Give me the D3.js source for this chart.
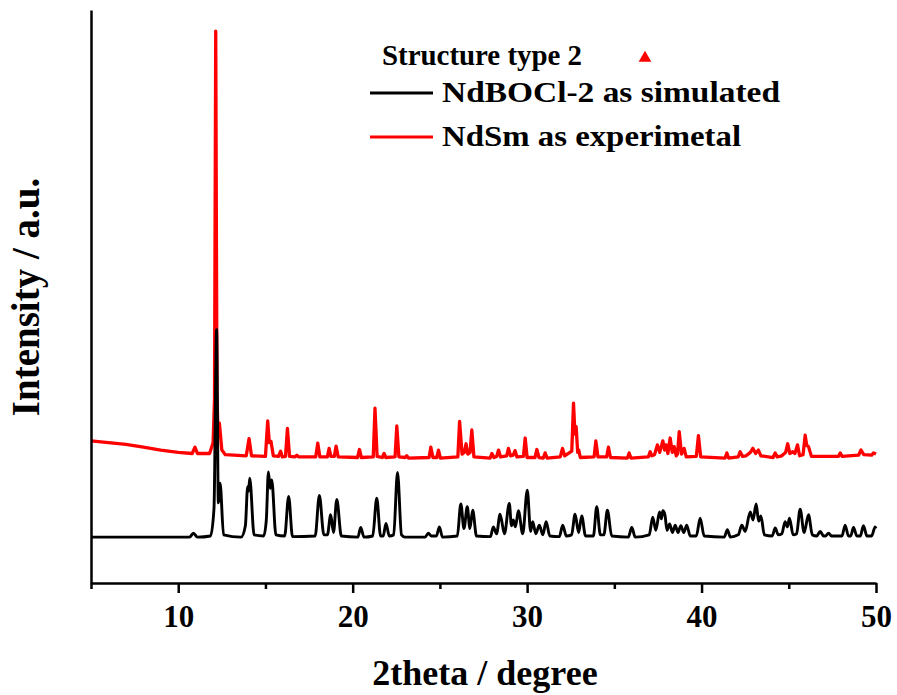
<!DOCTYPE html>
<html>
<head>
<meta charset="utf-8">
<script src="https://cdn.jsdelivr.net/npm/d3@7"></script>
<style>
  html, body { margin: 0; padding: 0; background: #fff; }
  svg text { font-family: "Liberation Serif", "Times New Roman", serif; font-weight: bold; fill: #000; }
</style>
</head>
<body>
<svg id="chart" width="897" height="695"></svg>
<script>
// ---- data (2theta in degrees, intensity in a.u.) ----
const xTickValues = [5, 10, 15, 20, 25, 30, 35, 40, 45, 50];
const xTickLabels = ["", "10", "", "20", "", "30", "", "40", "", "50"];
const seriesNames = ["NdBOCl-2 as simulated", "NdSm as experimetal"];
const legendTitle = "Structure type 2";

const simulated = [
  [5, 80], [10.65, 80], [10.87, 87], [11.1, 80], [11.85, 82], [12.05, 130], [12.2, 442], [12.3, 140], [12.4, 174], [12.6, 84],
  [13.6, 80], [13.85, 100], [13.98, 168], [14.03, 160], [14.1, 183], [14.35, 84], [14.9, 82], [15.05, 110], [15.17, 194],
  [15.27, 165], [15.36, 180], [15.6, 84], [16.1, 82], [16.33, 151], [16.55, 81], [17.85, 82], [18.09, 153], [18.35, 84],
  [18.55, 84], [18.74, 119], [18.9, 88], [19.09, 146], [19.35, 82], [20.3, 80], [20.46, 97], [20.65, 80], [21.15, 82],
  [21.38, 148], [21.6, 82], [21.75, 82], [21.91, 104], [22.1, 82], [22.35, 84], [22.57, 193], [22.8, 84], [23.0, 80],
  [24.15, 80], [24.34, 87], [24.5, 82], [24.8, 82], [24.97, 98], [25.15, 80], [26.0, 82], [26.2, 138], [26.38, 95],
  [26.57, 133], [26.72, 95], [26.88, 127], [27.1, 82], [27.9, 81], [28.06, 98], [28.25, 86], [28.45, 120], [28.7, 86],
  [28.98, 139], [29.1, 100], [29.21, 110], [29.33, 98], [29.5, 126], [29.75, 86], [30.01, 162], [30.2, 90], [30.32, 107],
  [30.5, 86], [30.7, 101], [30.9, 84], [31.09, 107], [31.3, 82], [31.85, 81], [32.04, 101], [32.25, 82], [32.55, 84],
  [32.75, 120], [32.95, 88], [33.13, 117], [33.35, 82], [33.8, 82], [33.99, 133], [34.2, 84], [34.4, 84], [34.6, 127],
  [34.85, 82], [35.8, 80], [36.0, 97], [36.2, 80], [37.0, 84], [37.2, 115], [37.38, 92], [37.59, 124], [37.7, 112],
  [37.78, 126], [37.9, 119], [38.02, 92], [38.17, 103], [38.33, 88], [38.49, 101], [38.65, 88], [38.81, 100], [38.98, 88],
  [39.15, 101], [39.35, 82], [39.7, 82], [39.92, 113], [40.15, 82], [41.3, 80], [41.48, 93], [41.65, 80], [42.1, 84],
  [42.31, 101], [42.5, 90], [42.79, 124], [42.95, 110], [43.13, 138], [43.27, 108], [43.4, 117], [43.6, 84], [44.05, 82],
  [44.22, 96], [44.4, 84], [44.6, 86], [44.79, 107], [44.92, 98], [45.04, 113], [45.25, 84], [45.45, 86], [45.65, 129],
  [45.88, 88], [46.13, 119], [46.35, 84], [46.6, 82], [46.8, 90], [47.0, 82], [47.1, 82], [47.28, 87], [47.45, 82],
  [48.05, 82], [48.23, 101], [48.42, 82], [48.55, 82], [48.71, 97], [48.9, 82], [49.1, 82], [49.28, 100], [49.48, 82],
  [49.75, 82], [49.95, 98], [50, 95]
];

const experimental = [
  [5, 248], [6, 245], [7, 242], [8, 237], [9, 232], [10, 228], [10.8, 226], [10.96, 237], [11.1, 226], [11.8, 226],
  [12.0, 245], [12.08, 320], [12.15, 963], [12.22, 330], [12.28, 262], [12.36, 279], [12.5, 232], [12.7, 224], [13.9, 222],
  [14.06, 252], [14.2, 222], [15.0, 221], [15.13, 283], [15.22, 245], [15.32, 247], [15.45, 222], [15.75, 221], [15.87, 230],
  [15.97, 220], [16.15, 221], [16.26, 270], [16.38, 221], [16.7, 220], [16.8, 223], [16.9, 220], [17.88, 220], [18.0, 244],
  [18.12, 220], [18.55, 220], [18.65, 235], [18.75, 221], [18.95, 221], [19.05, 239], [19.17, 220], [20.28, 219], [20.39, 233],
  [20.5, 219], [21.18, 220], [21.28, 305], [21.4, 221], [21.7, 219], [21.8, 226], [21.9, 219], [22.43, 220], [22.53, 274],
  [22.65, 220], [23.0, 219], [23.1, 222], [23.2, 218], [24.38, 219], [24.48, 237], [24.6, 219], [24.82, 219], [24.92, 232],
  [25.03, 218], [26.03, 220], [26.13, 282], [26.27, 225], [26.4, 228], [26.5, 243], [26.6, 225], [26.73, 228], [26.83, 267],
  [26.95, 220], [27.88, 218], [27.98, 226], [28.1, 219], [28.26, 221], [28.36, 232], [28.48, 220], [28.83, 222], [28.93, 235],
  [29.05, 222], [29.2, 223], [29.31, 231], [29.42, 220], [29.79, 221], [29.89, 253], [30.0, 219], [30.45, 219], [30.56, 233],
  [30.68, 219], [30.93, 218], [31.03, 227], [31.15, 218], [31.9, 220], [32.03, 235], [32.15, 222], [32.56, 230], [32.66, 314],
  [32.74, 260], [32.81, 273], [32.9, 228], [32.96, 232], [33.05, 219], [33.84, 220], [33.94, 248], [34.06, 220], [34.56, 220],
  [34.66, 237], [34.78, 219], [35.75, 218], [35.85, 227], [35.95, 218], [36.95, 220], [37.05, 229], [37.15, 222], [37.3, 224],
  [37.47, 241], [37.6, 228], [37.78, 248], [37.88, 232], [37.97, 241], [38.07, 226], [38.2, 253], [38.32, 228], [38.43, 238],
  [38.55, 222], [38.62, 225], [38.72, 264], [38.85, 225], [39.0, 235], [39.12, 220], [39.7, 221], [39.82, 257], [39.95, 220],
  [41.35, 218], [41.45, 227], [41.55, 218], [42.1, 220], [42.21, 229], [42.35, 221], [42.55, 222], [42.8, 228], [42.94, 235],
  [43.1, 226], [43.26, 232], [43.4, 222], [44.1, 219], [44.22, 227], [44.34, 220], [44.6, 222], [44.82, 228], [44.94, 243],
  [45.06, 226], [45.23, 229], [45.35, 226], [45.5, 241], [45.62, 222], [45.82, 224], [45.94, 258], [46.03, 240], [46.13, 238],
  [46.3, 221], [47.85, 221], [47.95, 227], [48.05, 221], [49.0, 223], [49.14, 232], [49.3, 224], [49.75, 223], [49.86, 227],
  [50, 225]
];

// ---- layout ----
const svg = d3.select("#chart");
const plotLeft = 91, plotRight = 876, plotTop = 10, plotBottom = 583;

const x = d3.scaleLinear().domain([5, 50]).range([plotLeft, plotRight]);
const y = d3.scaleLinear().domain([0, 1000]).range([plotBottom, plotTop]);

// curves
svg.append("path").datum(experimental)
  .attr("d", d3.line().x(d => x(d[0])).y(d => y(d[1])).curve(d3.curveLinear))
  .attr("fill", "none").attr("stroke", "#ff0000").attr("stroke-width", 3.3).attr("stroke-linejoin", "round");
svg.append("path").datum(simulated)
  .attr("d", d3.line().x(d => x(d[0])).y(d => y(d[1])).curve(d3.curveMonotoneX))
  .attr("fill", "none").attr("stroke", "#000").attr("stroke-width", 2.9).attr("stroke-linejoin", "round");

// x axis
const xAxis = d3.axisBottom(x)
  .tickValues(xTickValues)
  .tickFormat((d, i) => xTickLabels[i])
  .tickSizeOuter(0)
  .tickPadding(16);
const gx = svg.append("g").attr("transform", `translate(0,${plotBottom})`).call(xAxis);
gx.select(".domain").attr("stroke", "#000").attr("stroke-width", 2.5);
gx.selectAll(".tick line").attr("stroke", "#000").attr("stroke-width", 2.5)
  .attr("y2", (d, i) => xTickLabels[i] === "" ? 6 : 10);
gx.selectAll(".tick text")
  .attr("font-family", '"Liberation Serif", "Times New Roman", serif')
  .attr("font-weight", "bold").attr("font-size", 31).attr("fill", "#000");

// y axis (line only)
const yAxis = d3.axisLeft(y).tickValues([]).tickSizeOuter(0);
const gy = svg.append("g").attr("transform", `translate(${plotLeft},0)`).call(yAxis);
gy.select(".domain").attr("stroke", "#000").attr("stroke-width", 2.5);

// axis titles
svg.append("text").attr("x", 485).attr("y", 685)
  .attr("text-anchor", "middle").attr("font-size", 36).text("2theta / degree");
svg.append("text").attr("transform", `translate(39,297) rotate(-90)`)
  .attr("text-anchor", "middle").attr("font-size", 39).text("Intensity / a.u.");

// legend
const lg = svg.append("g");
lg.append("text").attr("x", 382).attr("y", 65).attr("font-size", 30)
  .attr("textLength", 200).attr("lengthAdjust", "spacingAndGlyphs").text(legendTitle);
lg.append("path").attr("d", d3.symbol().type(d3.symbolTriangle).size(70)())
  .attr("transform", "translate(645,58)").attr("fill", "#ff0000");
const legColors = ["#000", "#ff0000"];
const legY = [93, 137];
const legWidths = [338, 299];
seriesNames.forEach((name, i) => {
  lg.append("line").attr("x1", 370).attr("x2", 433).attr("y1", legY[i]).attr("y2", legY[i])
    .attr("stroke", legColors[i]).attr("stroke-width", 3);
  lg.append("text").attr("x", 442).attr("y", legY[i] + 9).attr("font-size", 30)
    .attr("textLength", legWidths[i]).attr("lengthAdjust", "spacingAndGlyphs").text(name);
});
</script>
</body>
</html>
